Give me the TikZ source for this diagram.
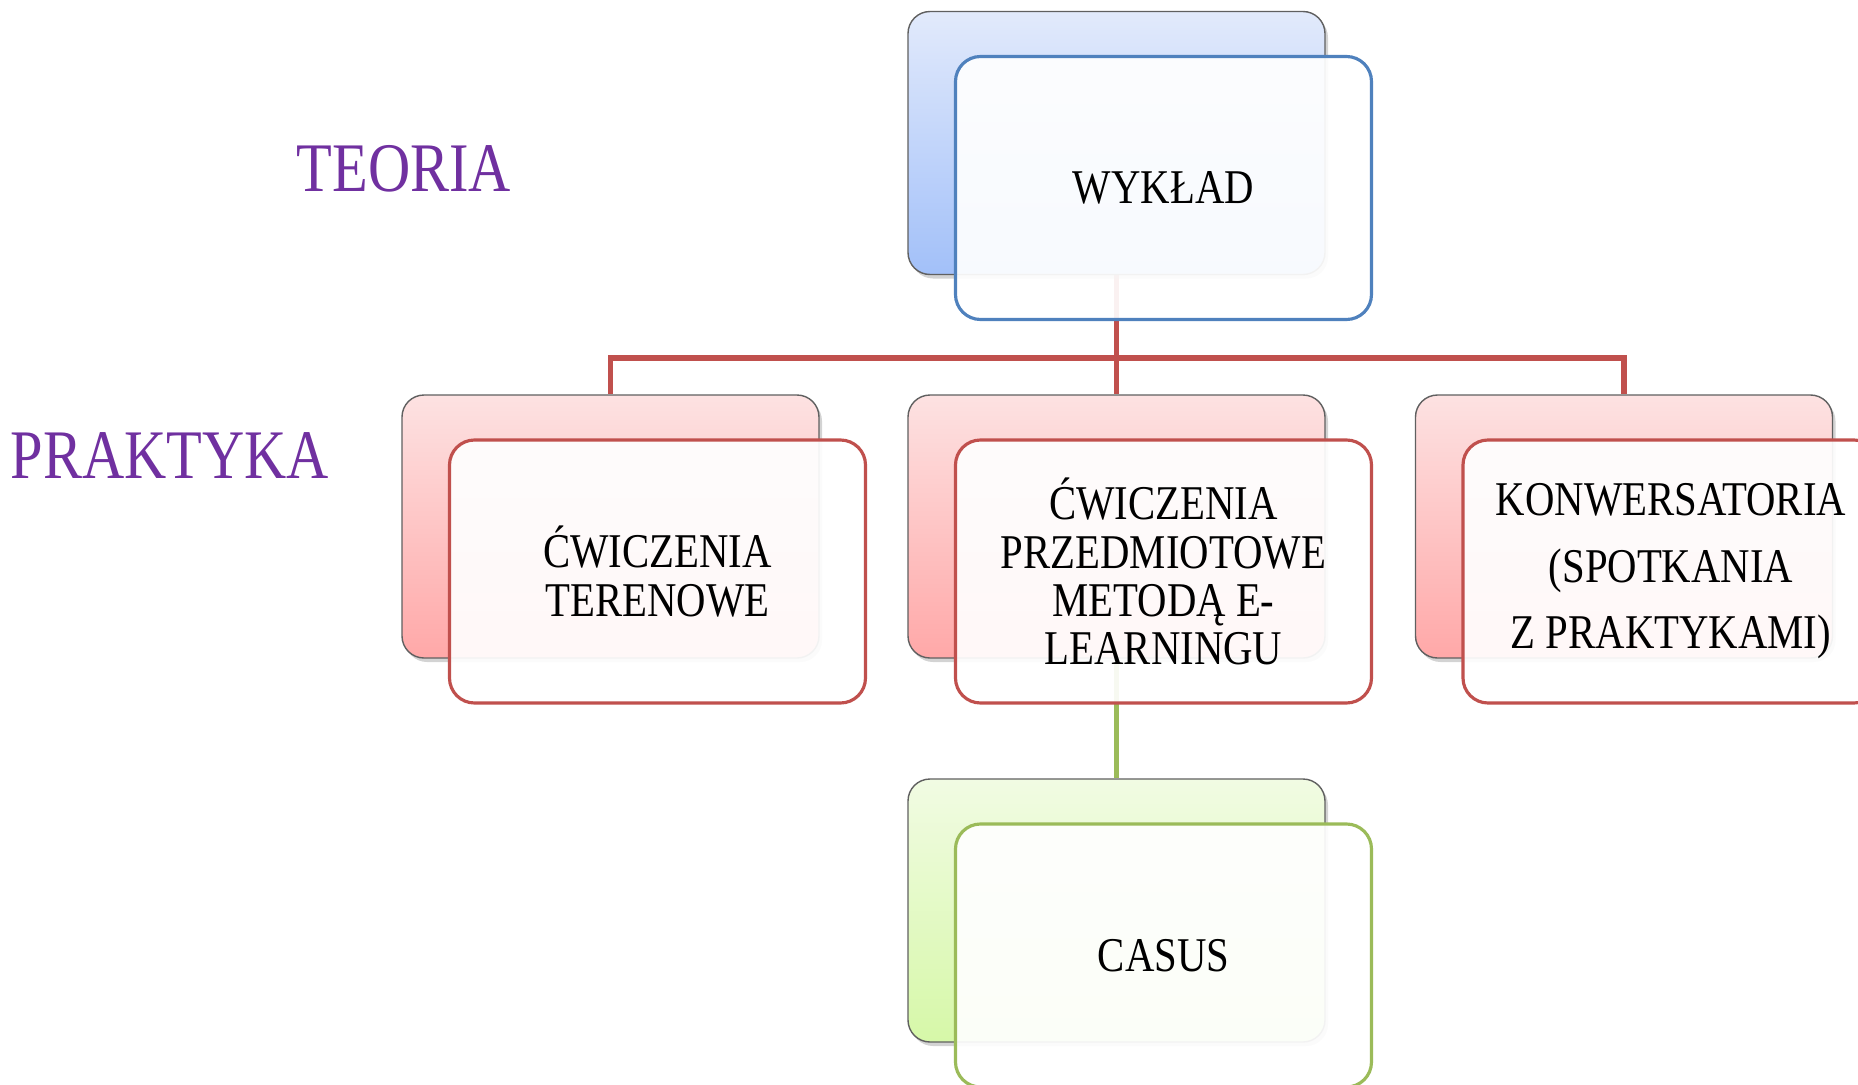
\documentclass[tikz,border=0pt]{standalone}
\usepackage{fontspec}
\setmainfont{Liberation Serif}[FakeStretch=0.84]
\usepackage{tikz}
\usetikzlibrary{positioning,shadows,backgrounds}
\definecolor{accb}{HTML}{4F81BD}
\definecolor{accr}{HTML}{C0504D}
\definecolor{accg}{HTML}{9BBB59}
\definecolor{lab}{HTML}{7030A0}
\definecolor{btop}{HTML}{E2EAFB}
\definecolor{bbot}{HTML}{A2C0F9}
\definecolor{rtop}{HTML}{FDE2E2}
\definecolor{rbot}{HTML}{FFA8A8}
\definecolor{gtop}{HTML}{F1FBE3}
\definecolor{gbot}{HTML}{D6F8A8}

\begin{document}
\begin{tikzpicture}[
  back/.style={draw=gray!75!black, line width=0.4pt, rounded corners=0.22cm, minimum width=4.17cm, minimum height=2.63cm,
    drop shadow={shadow xshift=0.03cm, shadow yshift=-0.04cm, opacity=0.35}},
  bback/.style={back, top color=btop, bottom color=bbot},
  rback/.style={back, top color=rtop, bottom color=rbot},
  gback/.style={back, top color=gtop, bottom color=gbot},
  front/.style={draw, line width=0.9pt, rounded corners=0.25cm, minimum width=4.16cm, minimum height=2.63cm,
    fill=white, fill opacity=0.92, text opacity=1, align=center, font=\fontsize{13.8}{13.7}\selectfont,
    on grid, below right=0.45cm and 0.47cm of #1},
  conn/.style={line width=1.6pt},
  side/.style={text=lab, font=\fontsize{19.8}{19.8}\selectfont}]
\useasboundingbox (0,0) rectangle (18.58,-10.85);
\clip (0,0) rectangle (18.58,-10.85);
% back cards
\node[bback] (wb) at (11.165,-1.43) {};
\node[rback] (lb) at (6.105,-5.265) {};
\node[rback] (mb) at (11.165,-5.265) {};
\node[rback] (rb) at (16.24,-5.265) {};
\node[gback] (bb) at (11.165,-9.105) {};
% front cards
\node[front=wb, draw=accb] (wf) {WYKŁAD};
\node[front=lb, draw=accr] (lf) {ĆWICZENIA\\TERENOWE};
\node[front=mb, draw=accr] (mf) {ĆWICZENIA\\PRZEDMIOTOWE\\METODĄ E-\\LEARNINGU};
\node[front=rb, draw=accr, font=\fontsize{13.8}{18.9}\selectfont] (rf) {KONWERSATORIA\\(SPOTKANIA\\Z PRAKTYKAMI)};
\node[front=bb, draw=accg] (bf) {CASUS};
% side labels
\node[side] (teo) at (4.04,-1.69) {TEORIA};
\node[side] (prak) at (1.70,-4.56) {PRAKTYKA};
% connectors
\begin{scope}[on background layer]
\coordinate (hub) at ([yshift=-0.83cm]wb.south);
\draw[conn, accr] (wb.south) -- (hub);
\foreach \b in {lb,mb,rb} \draw[conn, accr] (hub) -| (\b.north);
\draw[conn, accg] (mb.south) -- (bb.north);
\end{scope}
\end{tikzpicture}
\end{document}
